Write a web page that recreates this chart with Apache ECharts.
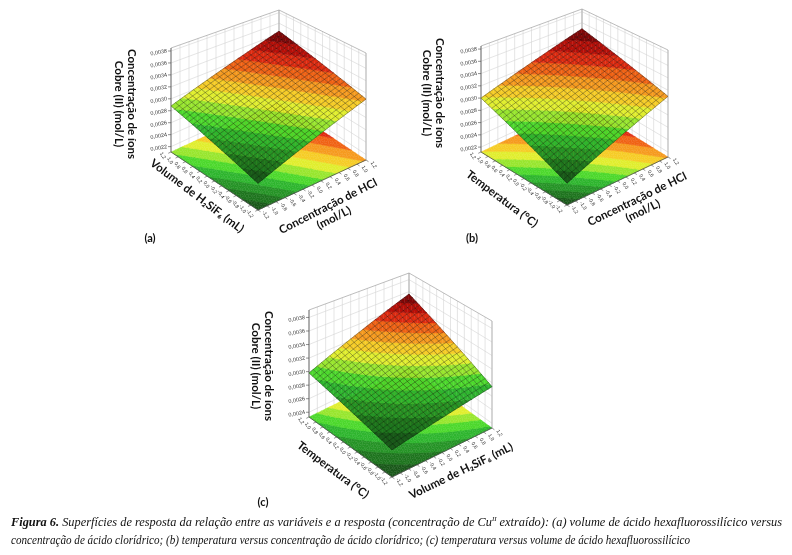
<!DOCTYPE html>
<html lang="pt">
<head>
<meta charset="utf-8">
<title>Figura 6</title>
<script src="https://cdn.jsdelivr.net/npm/echarts@6.0.0/dist/echarts.min.js"></script>
<style>
html,body{margin:0;padding:0;background:#ffffff;}
#chart{width:792px;height:555px;}
</style>
</head>
<body>
<div id="chart"></div>
<script>
// ---------------- DATA ----------------
const codedTicks = [-1.2,-1.0,-0.8,-0.6,-0.4,-0.2,0.0,0.2,0.4,0.6,0.8,1.0,1.2];
const codedTickLabels = ['-1,2','-1,0','-0,8','-0,6','-0,4','-0,2','0,0','0,2','0,4','0,6','0,8','1,0','1,2'];
const zTicksAB = [0.0022,0.0024,0.0026,0.0028,0.0030,0.0032,0.0034,0.0036,0.0038];
const zTickLabelsAB = ['0,0022','0,0024','0,0026','0,0028','0,0030','0,0032','0,0034','0,0036','0,0038'];
const zTicksC = [0.0024,0.0026,0.0028,0.0030,0.0032,0.0034,0.0036,0.0038];
const zTickLabelsC = ['0,0024','0,0026','0,0028','0,0030','0,0032','0,0034','0,0036','0,0038'];
// Cu(II) concentration (mol/L) read at the four corners of each coded domain,
// order: (x=-1.2,y=-1.2), (x=+1.2,y=-1.2), (x=-1.2,y=+1.2), (x=+1.2,y=+1.2)
const responseA = [0.00250, 0.00310, 0.00288, 0.00345]; // x: HCl, y: volume H2SiF6
const responseB = [0.00244, 0.00310, 0.00300, 0.00349]; // x: HCl, y: temperatura
const responseC = [0.00269, 0.00294, 0.00298, 0.00356]; // x: volume H2SiF6, y: temperatura
const zRangeA = [0.00211, 0.00385];
const zRangeB = [0.00212, 0.00385];
const zRangeC = [0.00233, 0.00391];
const xTitles = ['Concentração de HCl\n(mol/L)', 'Concentração de HCl\n(mol/L)', 'Volume de H₂SiF₆ (mL)'];
const yTitles = ['Volume de H₂SiF₆ (mL)', 'Temperatura (°C)', 'Temperatura (°C)'];
const zTitle = 'Concentração de íons\nCobre (II) (mol/L)';
const panelLetters = ['(a)', '(b)', '(c)'];
const captionLine1 = ['Figura 6.', ' Superfícies de resposta da relação entre as variáveis e a resposta (concentração de Cu', 'II', ' extraído): (a) volume de ácido hexafluorossilícico versus'];
const captionLine2 = 'concentração de ácido clorídrico; (b) temperatura versus concentração de ácido clorídrico; (c) temperatura versus volume de ácido hexafluorossilícico';

// ---------------- STYLE / LAYOUT ----------------
const palette = ['#1a581a','#1e741e','#259326','#2eb52e','#4cd82c','#98e62e','#e0ee2e',
                 '#f6cc26','#f69a1e','#f06214','#df2a10','#b80f08','#820505'];
const NB = palette.length;
const N = 24; // mesh cells per side
const U0 = codedTicks[0], U1 = codedTicks[codedTicks.length - 1];

// view of each 3-D box: screen position of floor corners front/left/right and box height at F,R,L,B
const panels = [
  { resp: responseA, zRange: zRangeA, zTicks: zTicksAB, zLabels: zTickLabelsAB,
    view: { F:[258,210], L:[171,152], R:[366,160], H:[119,107,104,92] },
    zTitlePos:[125,104], yTitlePos:[197,196], yRot:-37, xTitlePos:[331,212], xRot:27, letterPos:[150,238] },
  { resp: responseB, zRange: zRangeB, zTicks: zTicksAB, zLabels: zTickLabelsAB,
    view: { F:[567,205], L:[481,152], R:[668,157], H:[118,107,106,95] },
    zTitlePos:[433,93], yTitlePos:[502,199], yRot:-37, xTitlePos:[640,205], xRot:26, letterPos:[472,238] },
  { resp: responseC, zRange: zRangeC, zTicks: zTicksC, zLabels: zTickLabelsC,
    view: { F:[392,477], L:[309,417], R:[492,428], H:[119,107,107,95] },
    zTitlePos:[262,366], yTitlePos:[333,470], yRot:-37, xTitlePos:[461,471], xRot:26, letterPos:[263,502] }
];

function proj(p, u, v, z) {
  const a = (u - U0) / (U1 - U0), b = (v - U0) / (U1 - U0);
  const V = p.view, F = V.F, R = V.R, L = V.L;
  const x = F[0] + a * (R[0] - F[0]) + b * (L[0] - F[0]);
  const y = F[1] + a * (R[1] - F[1]) + b * (L[1] - F[1]);
  const H = (1-a)*(1-b)*V.H[0] + a*(1-b)*V.H[1] + (1-a)*b*V.H[2] + a*b*V.H[3];
  const h = (z - p.zRange[0]) / (p.zRange[1] - p.zRange[0]);
  return [x, y - h * H];
}
function response(p, u, v) {
  const a = (u - U0) / (U1 - U0), b = (v - U0) / (U1 - U0), c = p.resp;
  return (1-a)*(1-b)*c[0] + a*(1-b)*c[1] + (1-a)*b*c[2] + a*b*c[3];
}
function clip(poly, level, keepAbove) {
  const out = [];
  for (let i = 0; i < poly.length; i++) {
    const A = poly[i], B = poly[(i + 1) % poly.length];
    const ain = keepAbove ? A.z >= level : A.z <= level;
    const bin = keepAbove ? B.z >= level : B.z <= level;
    if (ain) out.push(A);
    if (ain !== bin) {
      const t = (level - A.z) / (B.z - A.z);
      out.push({ p: [A.p[0] + t * (B.p[0] - A.p[0]), A.p[1] + t * (B.p[1] - A.p[1])], z: level });
    }
  }
  return out;
}

const series = [];
panels.forEach((p, pi) => {
  const z0 = p.zRange[0], z1 = p.zRange[1];
  const zlo = Math.min(...p.resp), zhi = Math.max(...p.resp);
  const level = k => zlo + k * (zhi - zlo) / NB;
  const bandOf = z => Math.max(0, Math.min(NB - 1, Math.floor((z - zlo) / (zhi - zlo) * NB)));
  const du = (U1 - U0) / N;

  // ---- walls, box edges ----
  const lines = [];
  const gridC = '#d4d4d4', edgeC = '#a0a0a0', axisC = '#4a4a4a';
  codedTicks.forEach(t => {
    lines.push({ pts: [[t, U1, z0], [t, U1, z1]], c: gridC, w: 0.6 });
    lines.push({ pts: [[U1, t, z0], [U1, t, z1]], c: gridC, w: 0.6 });
  });
  p.zTicks.forEach(t => lines.push({ pts: [[U0, U1, t], [U1, U1, t], [U1, U0, t]], c: gridC, w: 0.6 }));
  lines.push({ pts: [[U0, U1, z1], [U1, U1, z1], [U1, U0, z1]], c: edgeC, w: 0.7 });
  lines.push({ pts: [[U1, U1, z0], [U1, U1, z1]], c: edgeC, w: 0.7 });
  lines.push({ pts: [[U1, U0, z0], [U1, U0, z1]], c: edgeC, w: 0.7 });
  series.push({
    type: 'custom', coordinateSystem: 'cartesian2d', silent: true, animation: false, clip: false, z: 1,
    data: lines.map((_, k) => [k, 0]),
    renderItem: (params, api) => {
      const it = lines[params.dataIndex];
      return { type: 'polyline', shape: { points: it.pts.map(q => api.coord(proj(p, q[0], q[1], q[2]))) },
               style: { stroke: it.c, lineWidth: it.w, fill: null } };
    }
  });

  // ---- floor contour and surface ----
  const cells = [];
  for (let i = 0; i < N; i++) for (let j = 0; j < N; j++) cells.push([i, j]);
  cells.sort((A, B) => (B[0] + B[1]) - (A[0] + A[1]));
  const cellRender = onFloor => (params, api) => {
    const i = api.value(0), j = api.value(1);
    const nodes = [[i, j], [i + 1, j], [i + 1, j + 1], [i, j + 1]].map(([ii, jj]) => {
      const u = U0 + ii * du, v = U0 + jj * du, z = response(p, u, v);
      return { p: api.coord(proj(p, u, v, onFloor ? z0 : z)), z };
    });
    const children = [];
    [[nodes[0], nodes[1], nodes[2]], [nodes[0], nodes[2], nodes[3]]].forEach(tri => {
      const zs = tri.map(n => n.z);
      const k0 = bandOf(Math.min(...zs)), k1 = bandOf(Math.max(...zs));
      for (let k = k0; k <= k1; k++) {
        let poly = tri;
        if (k > k0) poly = clip(poly, level(k), true);
        if (k < k1) poly = clip(poly, level(k + 1), false);
        if (poly.length >= 3) children.push({ type: 'polygon', shape: { points: poly.map(n => n.p) },
          style: { fill: palette[k], stroke: palette[k], lineWidth: 0.4 } });
      }
    });
    return { type: 'group', children };
  };
  series.push({ type: 'custom', coordinateSystem: 'cartesian2d', silent: true, animation: false, clip: false, z: 2,
    data: cells, renderItem: cellRender(true) });

  // axes on floor front edges + z axis
  const axes = [];
  axes.push({ pts: [[U0, U1, z0], [U0, U0, z0], [U1, U0, z0]], c: axisC, w: 0.8 });
  axes.push({ pts: [[U0, U1, z0], [U0, U1, z1]], c: axisC, w: 0.8 });
  series.push({
    type: 'custom', coordinateSystem: 'cartesian2d', silent: true, animation: false, clip: false, z: 3,
    data: axes.map((_, k) => [k, 0]),
    renderItem: (params, api) => {
      const it = axes[params.dataIndex];
      return { type: 'polyline', shape: { points: it.pts.map(q => api.coord(proj(p, q[0], q[1], q[2]))) },
               style: { stroke: it.c, lineWidth: it.w, fill: null } };
    }
  });

  series.push({ type: 'custom', coordinateSystem: 'cartesian2d', silent: true, animation: false, clip: false, z: 4,
    data: cells, renderItem: cellRender(false) });

  // mesh lines
  const mesh = [];
  for (let k = 0; k <= N; k++) { mesh.push([0, k]); mesh.push([1, k]); }
  series.push({
    type: 'custom', coordinateSystem: 'cartesian2d', silent: true, animation: false, clip: false, z: 5,
    data: mesh,
    renderItem: (params, api) => {
      const dir = api.value(0), k = api.value(1);
      const pts = [];
      for (let m = 0; m <= N; m++) {
        const u = dir === 0 ? U0 + k * du : U0 + m * du;
        const v = dir === 0 ? U0 + m * du : U0 + k * du;
        pts.push(api.coord(proj(p, u, v, response(p, u, v))));
      }
      return { type: 'polyline', shape: { points: pts }, style: { stroke: 'rgba(10,10,10,0.55)', lineWidth: 0.6, fill: null } };
    }
  });

  // tick marks and labels
  const unit = (A, B) => { const dx = A[0] - B[0], dy = A[1] - B[1], d = Math.hypot(dx, dy); return [dx / d, dy / d]; };
  const outY = unit(p.view.F, p.view.R); // left axis (y factor) points away from right corner
  const outX = unit(p.view.F, p.view.L); // right axis (x factor) points away from left corner
  const ticks = [];
  codedTicks.forEach((t, k) => {
    ticks.push({ q: [U0, t, z0], d: outY, text: codedTickLabels[k], kind: 'uv' });
    ticks.push({ q: [t, U0, z0], d: outX, text: codedTickLabels[k], kind: 'uv' });
  });
  p.zTicks.forEach((t, k) => ticks.push({ q: [U0, U1, t], d: [-1, 0], text: p.zLabels[k], kind: 'z' }));
  series.push({
    type: 'custom', coordinateSystem: 'cartesian2d', silent: true, animation: false, clip: false, z: 6,
    data: ticks.map((_, k) => [k, 0]),
    renderItem: (params, api) => {
      const it = ticks[params.dataIndex];
      const b = api.coord(proj(p, it.q[0], it.q[1], it.q[2]));
      const e = [b[0] + it.d[0] * 3, b[1] + it.d[1] * 3];
      const children = [{ type: 'line', shape: { x1: b[0], y1: b[1], x2: e[0], y2: e[1] }, style: { stroke: axisC, lineWidth: 0.6 } }];
      if (it.kind === 'z') {
        children.push({ type: 'text', x: b[0] - 4, y: b[1], rotation: 0.18,
          style: { text: it.text, fill: '#333', fontSize: 5.5, fontFamily: 'Liberation Sans', align: 'right', verticalAlign: 'middle' } });
      } else {
        children.push({ type: 'text', x: b[0] + it.d[0] * 9, y: b[1] + it.d[1] * 9, rotation: -1.0,
          style: { text: it.text, fill: '#333', fontSize: 5, fontFamily: 'Liberation Sans', align: 'center', verticalAlign: 'middle' } });
      }
      return { type: 'group', children };
    }
  });
});

// ---------------- TEXT ----------------
const titleFont = { fontFamily: 'Lato', fontWeight: 'bold', fontSize: 11.5, fill: '#111', align: 'center', verticalAlign: 'middle', lineHeight: 13 };
const graphic = [];
panels.forEach((p, pi) => {
  graphic.push({ type: 'text', x: p.zTitlePos[0], y: p.zTitlePos[1], rotation: -Math.PI / 2, silent: true,
    style: Object.assign({ text: zTitle }, titleFont) });
  graphic.push({ type: 'text', x: p.yTitlePos[0], y: p.yTitlePos[1], rotation: p.yRot * Math.PI / 180, silent: true,
    style: Object.assign({ text: yTitles[pi] }, titleFont) });
  graphic.push({ type: 'text', x: p.xTitlePos[0], y: p.xTitlePos[1], rotation: p.xRot * Math.PI / 180, silent: true,
    style: Object.assign({ text: xTitles[pi] }, titleFont) });
  graphic.push({ type: 'text', x: p.letterPos[0], y: p.letterPos[1], silent: true,
    style: { text: panelLetters[pi], fontFamily: 'Lato', fontWeight: 'bold', fontSize: 11, fill: '#111', align: 'center', verticalAlign: 'middle' } });
});

// caption, widths fitted to the reference lines
const ctx = document.createElement('canvas').getContext('2d');
const capSize = 12.5;
ctx.font = 'italic bold ' + capSize + 'px "Liberation Serif"';
let w1 = ctx.measureText(captionLine1[0]).width;
ctx.font = 'italic ' + capSize + 'px "Liberation Serif"';
w1 += ctx.measureText(captionLine1[1]).width + ctx.measureText(captionLine1[3]).width;
ctx.font = 'italic 7px "Liberation Serif"';
w1 += ctx.measureText(captionLine1[2]).width;
ctx.font = 'italic ' + capSize + 'px "Liberation Serif"';
const w2 = ctx.measureText(captionLine2).width;
const capStyle = { fontFamily: 'Liberation Serif', fontStyle: 'italic', fontSize: capSize, fill: '#111', align: 'left', verticalAlign: 'middle' };
graphic.push({ type: 'text', x: 11, y: 523, scaleX: 771 / w1, silent: true,
  style: Object.assign({}, capStyle, {
    text: '{b|' + captionLine1[0] + '}{i|' + captionLine1[1] + '}{s|' + captionLine1[2] + '}{i|' + captionLine1[3] + '}',
    rich: {
      b: { fontFamily: 'Liberation Serif', fontStyle: 'italic', fontWeight: 'bold', fontSize: capSize, fill: '#111', lineHeight: 14 },
      i: { fontFamily: 'Liberation Serif', fontStyle: 'italic', fontSize: capSize, fill: '#111', lineHeight: 14 },
      s: { fontFamily: 'Liberation Serif', fontStyle: 'italic', fontSize: 7, fill: '#111', lineHeight: 14, verticalAlign: 'top' }
    } }) });
graphic.push({ type: 'text', x: 11, y: 541, scaleX: 679 / w2, silent: true,
  style: Object.assign({}, capStyle, { text: captionLine2 }) });

const chart = echarts.init(document.getElementById('chart'), null, { renderer: 'canvas', width: 792, height: 555 });
chart.setOption({
  backgroundColor: '#ffffff',
  animation: false,
  grid: { left: 0, top: 0, width: 792, height: 555 },
  xAxis: { type: 'value', min: 0, max: 792, show: false },
  yAxis: { type: 'value', min: 0, max: 555, inverse: true, show: false },
  graphic: graphic,
  series: series
});
</script>
</body>
</html>
